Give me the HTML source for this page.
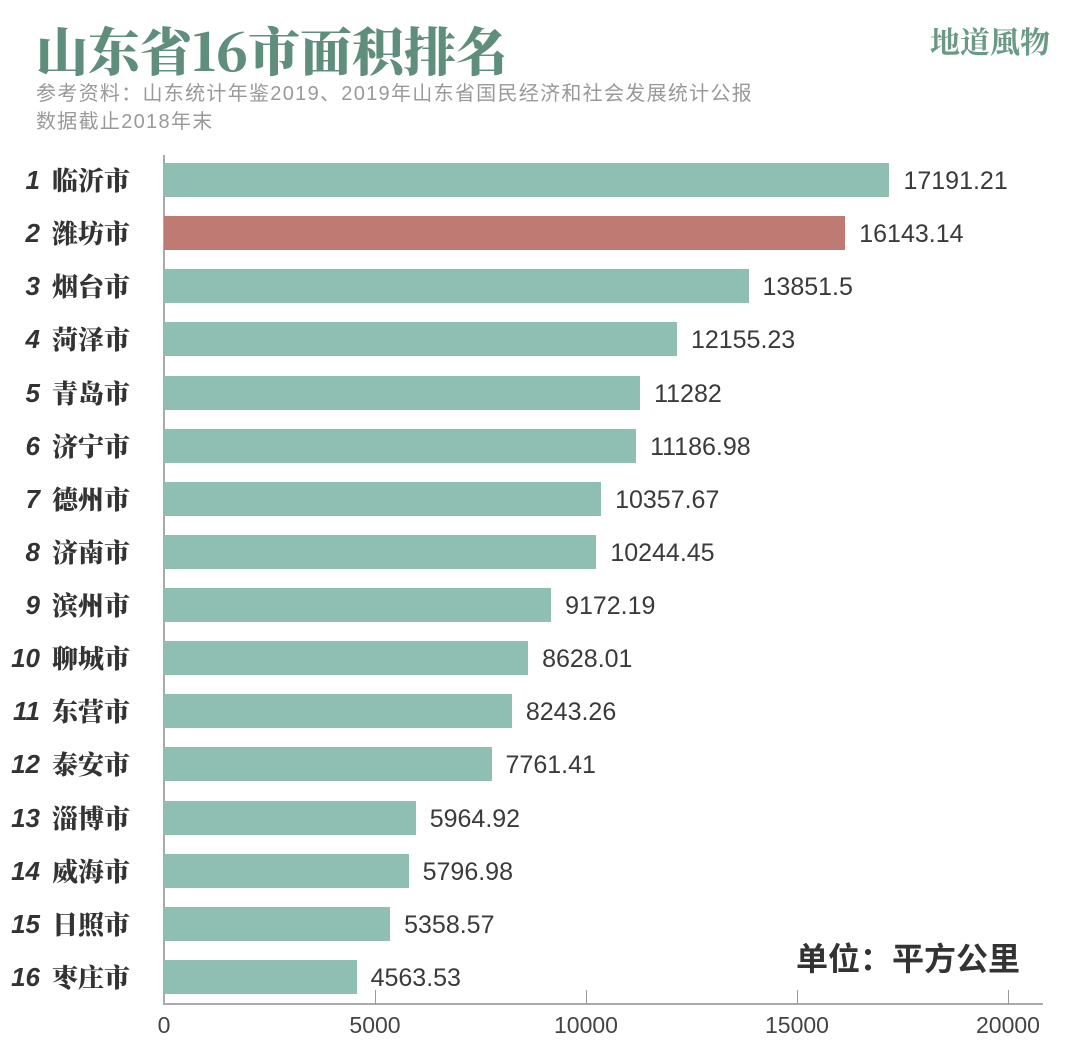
<!DOCTYPE html>
<html><head><meta charset="utf-8"><style>
body{margin:0;width:1080px;height:1048px;background:#fff;position:relative;overflow:hidden;font-family:"Liberation Sans","Noto Sans CJK SC",sans-serif}
.t{position:absolute;left:36px;top:14px;font-family:"Noto Serif CJK SC",serif;font-weight:900;font-size:52px;color:#5f8f7c;letter-spacing:0px;line-height:70px}
.brand{position:absolute;right:30px;top:18px;font-family:"Noto Serif CJK SC",serif;font-weight:700;font-size:30px;color:#6a9a86}
.sub{position:absolute;left:36px;top:80px;font-size:20px;color:#999;line-height:28px;letter-spacing:1.3px}
.lab{position:absolute;left:0;width:142px;height:34px;line-height:34px;font-size:26px;color:#333}
.lab i{position:absolute;left:4px;width:36px;text-align:right;font-weight:bold;font-style:italic;font-family:"Liberation Sans",sans-serif;font-size:26px}
.lab b{position:absolute;left:52px;font-family:"Noto Serif CJK SC",serif;font-weight:900}
.bar{position:absolute;left:164px;height:34px;background:#8fbfb3}
.v{position:absolute;height:34px;line-height:34px;font-size:25px;color:#3a3a3a}
.tick{position:absolute;top:990px;width:1px;height:14px;background:#999}
.tl{position:absolute;top:1012px;font-size:23px;color:#444;width:100px;text-align:center}
</style></head><body>
<div class="t">山东省16市面积排名</div>
<div class="brand">地道風物</div>
<div class="sub">参考资料：山东统计年鉴2019、2019年山东省国民经济和社会发展统计公报<br>数据截止2018年末</div>
<div style="position:absolute;left:163px;top:155px;width:2px;height:850px;background:#aaa"></div>
<div style="position:absolute;left:163px;top:1003px;width:880px;height:2px;background:#aaa"></div>
<div id="c"></div>
<div style="position:absolute;left:796px;top:934px;font-size:32px;color:#333;font-weight:bold">单位：平方公里</div>
<script>
var d=[["临沂市",17191.21],["潍坊市",16143.14],["烟台市",13851.5],["菏泽市",12155.23],["青岛市",11282],["济宁市",11186.98],["德州市",10357.67],["济南市",10244.45],["滨州市",9172.19],["聊城市",8628.01],["东营市",8243.26],["泰安市",7761.41],["淄博市",5964.92],["威海市",5796.98],["日照市",5358.57],["枣庄市",4563.53]];
var h="";
for(var i=0;i<16;i++){var y=163+i*53.13,w=d[i][1]*0.0422;
h+='<div class="lab" style="top:'+y+'px"><i>'+(i+1)+'</i><b>'+d[i][0]+'</b></div>';
h+='<div class="bar" style="top:'+y+'px;width:'+w+'px'+(i==1?';background:#c07a74':'')+'"></div>';
h+='<div class="v" style="top:'+(y+1)+'px;left:'+(164+w+14)+'px">'+d[i][1]+'</div>';}
for(var k=0;k<5;k++){var x=164+k*211;if(k)h+='<div class="tick" style="left:'+x+'px"></div>';h+='<div class="tl" style="left:'+(x-50)+'px">'+k*5000+'</div>';}
document.getElementById("c").innerHTML=h;
</script>
</body></html>
